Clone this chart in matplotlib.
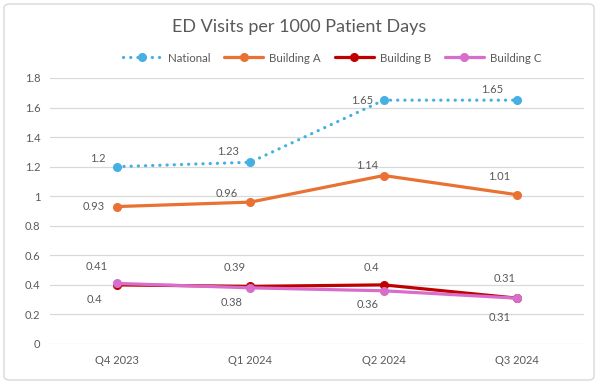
import matplotlib
matplotlib.use("Agg")
import matplotlib.pyplot as plt
from matplotlib.patches import FancyBboxPatch

categories = ["Q4 2023", "Q1 2024", "Q2 2024", "Q3 2024"]
national = [1.2, 1.23, 1.65, 1.65]
building_a = [0.93, 0.96, 1.14, 1.01]
building_b = [0.4, 0.39, 0.4, 0.31]
building_c = [0.41, 0.38, 0.36, 0.31]
yticks = [0, 0.2, 0.4, 0.6, 0.8, 1, 1.2, 1.4, 1.6, 1.8]
title = "ED Visits per 1000 Patient Days"

plt.rcParams['font.family'] = ['Lato', 'DejaVu Sans']
txt = '#595959'

fig = plt.figure(figsize=(5.98, 3.84), dpi=100)
ax = fig.add_axes([50/598, 1-344/384, 534/598, 266/384])

x = list(range(len(categories)))
series = [
    ("National", national, '#45B0E1', (0, (0.05, 2.2)), [(-19, 8), (-22, 11), (-22, 0), (-25, 11)]),
    ("Building A", building_a, '#E97132', '-', [(-23, 0), (-23, 9), (-17, 10), (-18, 18)]),
    ("Building B", building_b, '#C00000', '-', [(-22, -15), (-16, 19), (-12, 17), (-13, 20)]),
    ("Building C", building_c, '#D86ECC', '-', [(-20, 17), (-19, -15), (-16, -14), (-18, -19)]),
]
handles = []
for name, vals, col, ls, offs in series:
    h, = ax.plot(x, vals, color=col, lw=2.3, ls=ls, marker='o', ms=5.5,
                 label=name, zorder=3,
                 dash_capstyle='round', solid_capstyle='round')
    handles.append(h)
    for xi, v, (dx, dy) in zip(x, vals, offs):
        ax.annotate(f"{v:g}", (xi, v), xytext=(dx, dy), textcoords='offset pixels',
                    ha='center', va='center', fontsize=8, color=txt)

ax.set_xlim(-0.5, 3.5)
ax.set_ylim(0, 1.8)
ax.set_yticks(yticks)
ax.set_yticklabels([f"{t:g}" for t in yticks])
ax.set_xticks(x)
ax.set_xticklabels(categories)
ax.grid(axis='y', color='#D9D9D9', lw=0.9)
ax.set_axisbelow(True)
for s in ax.spines.values():
    s.set_visible(False)
ax.tick_params(length=0, labelsize=8, labelcolor=txt)
ax.tick_params(axis='y', pad=7)
ax.tick_params(axis='x', pad=8)

fig.text(0.5, 1-27/384, title, ha='center', va='center', fontsize=13, color=txt)
fig.legend(handles=handles, loc='center', bbox_to_anchor=(332/598, 1-58/384),
           ncol=4, frameon=False, fontsize=8.3, labelcolor=txt,
           handlelength=3.4, columnspacing=1.2, handletextpad=0.5, markerscale=1.0)

fig.patches.append(FancyBboxPatch((4/598, 4/384), 590/598, 376/384,
                                  boxstyle="round,pad=0,rounding_size=0.01",
                                  transform=fig.transFigure, fill=False,
                                  edgecolor='#D9D9D9', lw=1))
fig.savefig("out.png", dpi=100)
